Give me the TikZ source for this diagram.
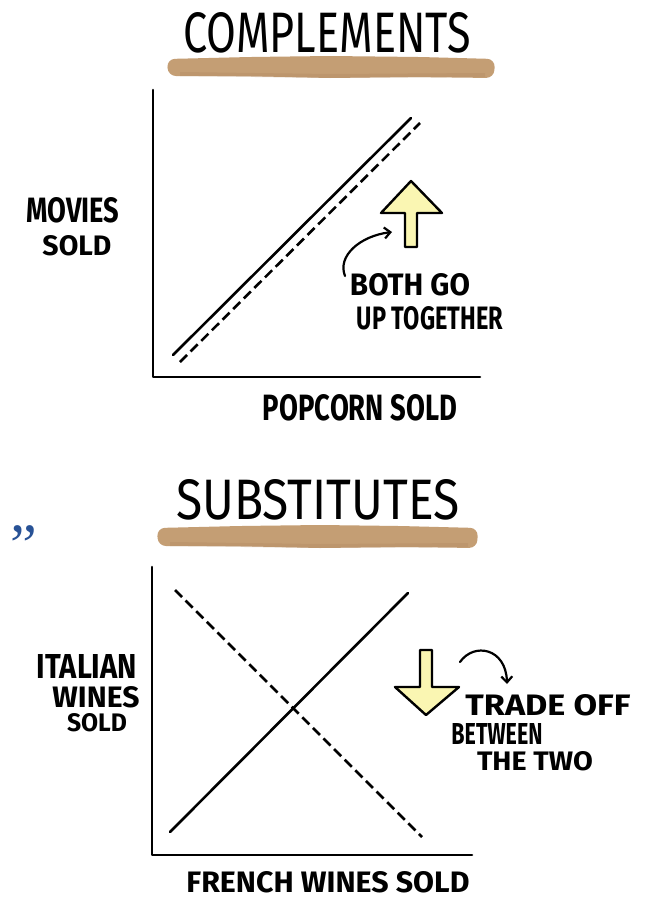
\documentclass[tikz,border=0pt]{standalone}
\usepackage{fontspec}
\setmainfont{Fira Sans}
\newfontfamily\quotefont{Liberation Serif}
\usetikzlibrary{arrows.meta}
\definecolor{brush}{RGB}{196,158,116}
\definecolor{brushdark}{RGB}{176,136,96}
\definecolor{pale}{RGB}{250,246,178}
\definecolor{quoteblue}{RGB}{40,82,150}
\newcommand{\fitbox}[3]{\resizebox{#1pt}{#2pt}{#3}}
\begin{document}
\begin{tikzpicture}[x=1pt,y=-1pt,
  ink/.style={line width=2.6pt,line cap=round,line join=round},
  dashink/.style={ink,line cap=butt,dash pattern=on 10pt off 5pt},
  lbl/.style={inner sep=0pt,font=\bfseries},
  ttl/.style={inner sep=0pt,font=\normalfont},
  brushstroke/.style={fill=brush,draw=none,rounded corners=8pt},
  bigarrow/.style={ink,fill=pale,line width=2.4pt},
  curvearrow/.style={line width=2.2pt,line cap=round,-{Straight Barb[length=6pt,width=11pt,line width=2.2pt]}}]
\useasboundingbox[fill=white] (0,0) rectangle (651,900);

% ---------------- COMPLEMENTS ----------------
\fill[brushstroke] (167,59) -- (250,57) -- (330,56) -- (420,57) -- (495,59) -- (494,78) -- (410,77) -- (330,78) -- (240,76) -- (168,76) -- cycle;
\fill[brushdark,opacity=0.35] (180,72) -- (330,74) -- (485,73) -- (485,77) -- (330,78) -- (180,76) -- cycle;
\node[ttl] (ttl1) at (327,33) {\fitbox{287}{40}{COMPLEMENTS}};

\coordinate (o1) at (153,377);
\coordinate (ytop1) at (153,90);
\coordinate (xend1) at (480,377);
\draw[ink] (ytop1) -- (o1) -- (xend1);

\coordinate (s1a) at (173,355);
\coordinate (s1b) at (411,118);
\coordinate (d1a) at (180,362);
\coordinate (d1b) at (420,123);
\draw[ink] (s1a) -- (s1b);
\draw[dashink] (d1a) -- (d1b);

\node[lbl] (movies) at (73,210) {\fitbox{93}{25}{MOVIES}};
\node[lbl] (sold1) at (77,246) {\fitbox{69}{20}{SOLD}};
\node[lbl] (popcorn) at (360,408) {\fitbox{194}{26}{POPCORN SOLD}};

\draw[bigarrow] (405,247) -- (405,213) -- (381,213) -- (411,181) -- (442,213) -- (417,213) -- (417,247) -- cycle;
\node[lbl] (both) at (410,285) {\fitbox{120}{22}{BOTH GO}};
\node[lbl] (up) at (430,318) {\fitbox{146}{23}{UP TOGETHER}};
\coordinate (c1s) at (345,276);
\coordinate (c1e) at (392,232);
\draw[curvearrow] (c1s) .. controls (337,256) and (360,236) .. (c1e);

% ---------------- SUBSTITUTES ----------------
\node[inner sep=0pt,text=quoteblue] (quote) at (24,546) {\quotefont\fontsize{60}{60}\selectfont ”};

\fill[brushstroke] (157,528) -- (240,526) -- (320,525) -- (400,526) -- (478,528) -- (477,548) -- (400,547) -- (320,548) -- (230,546) -- (158,546) -- cycle;
\fill[brushdark,opacity=0.35] (170,542) -- (320,544) -- (468,543) -- (468,547) -- (320,548) -- (170,546) -- cycle;
\node[ttl] (ttl2) at (318,500) {\fitbox{283}{40}{SUBSTITUTES}};

\coordinate (o2) at (152,855);
\coordinate (ytop2) at (152,567);
\coordinate (xend2) at (472,855);
\draw[ink] (ytop2) -- (o2) -- (xend2);

\coordinate (s2a) at (170,832);
\coordinate (s2b) at (408,593);
\coordinate (d2a) at (175,590);
\coordinate (d2b) at (422,837);
\draw[ink] (s2a) -- (s2b);
\draw[dashink] (d2a) -- (d2b);

\node[lbl] (italian) at (87,666) {\fitbox{100}{24}{ITALIAN}};
\node[lbl] (wines) at (96,697) {\fitbox{87}{21}{WINES}};
\node[lbl] (sold2) at (97,723) {\fitbox{60}{18}{SOLD}};
\node[lbl] (french) at (328,882) {\fitbox{283}{21}{FRENCH WINES SOLD}};

\draw[bigarrow] (420,650) -- (420,687) -- (395,687) -- (426,715) -- (459,687) -- (432,687) -- (432,650) -- cycle;
\node[lbl] (trade) at (548,705) {\fitbox{165}{21}{TRADE OFF}};
\node[lbl] (between) at (497,734) {\fitbox{91}{21}{BETWEEN}};
\node[lbl] (thetwo) at (535,761) {\fitbox{116}{19}{THE TWO}};
\coordinate (c2s) at (460,662);
\coordinate (c2e) at (507,684);
\draw[curvearrow] (c2s) .. controls (474,642) and (506,648) .. (c2e);
\end{tikzpicture}
\end{document}
